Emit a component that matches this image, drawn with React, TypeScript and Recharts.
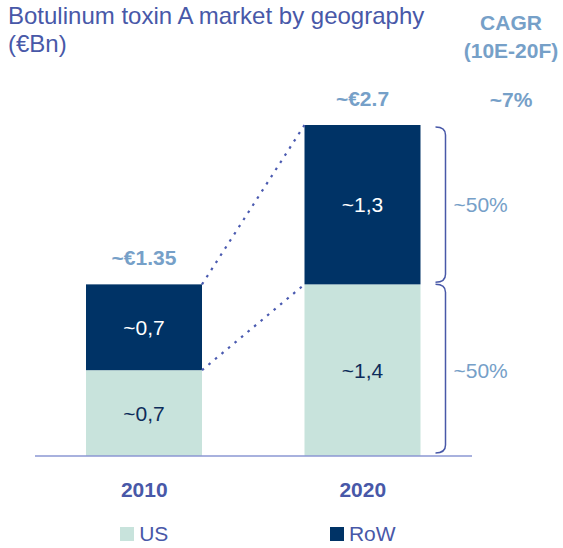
import { BarChart, Bar, XAxis, YAxis, LabelList, Legend } from 'recharts'

const years = ['2010', '2020']
const seriesNames = ['US', 'RoW']
const usValues = [0.7, 1.4]
const rowValues = [0.7, 1.3]
const totalLabels = ['~€1.35', '~€2.7']
// share of the 2020 market, top (RoW) then bottom (US)
const shareLabels = ['~50%', '~50%']
const cagrLabel = '~7%'

const FONT = '"Liberation Sans", Arial, sans-serif'
const NAVY = '#003366'
const MINT = '#c8e3dc'
const INK = '#4858a8'
const SOFT = '#76a0c8'

const data = years.map((year, i) => ({
  year,
  us: usValues[i],
  row: rowValues[i],
  total: totalLabels[i],
}))

type Box = { x: number; y: number; width: number; height: number }
// bar boxes are collected while the bars draw, so the connectors can join them
const boxes: Record<string, Box> = {}

const fmt = (v: number) => '~' + String(v).replace('.', ',')

function UsShape(props: any) {
  const { x, y, width, height, index, fill } = props
  boxes['us' + index] = { x, y, width, height }
  return <rect x={x} y={y} width={width} height={height} fill={fill} />
}

function bracket(x0: number, top: number, bottom: number) {
  const x1 = x0 + 10
  return `M${x0},${top} Q${x1},${top} ${x1},${top + 8} L${x1},${bottom - 8} Q${x1},${bottom} ${x0},${bottom}`
}

function RowShape(props: any) {
  const { x, y, width, height, index, fill } = props
  boxes['row' + index] = { x, y, width, height }
  const rect = <rect x={x} y={y} width={width} height={height} fill={fill} />
  if (index !== years.length - 1) return rect

  const a = boxes['row0']
  const ua = boxes['us0']
  const ub = boxes['us' + index]
  const right = x + width
  const rowBottom = y + height
  const usBottom = ub ? ub.y + ub.height : rowBottom
  const dots = { stroke: '#4a5ab0', strokeWidth: 2.2, strokeDasharray: '2.5 6' }

  return (
    <g>
      {rect}
      {a && <line x1={a.x + a.width} y1={a.y} x2={x} y2={y} {...dots} />}
      {ua && ub && <line x1={ua.x + ua.width} y1={ua.y} x2={ub.x} y2={ub.y} {...dots} />}
      <path d={bracket(right + 15, y + 2, rowBottom - 2)} fill="none" stroke={INK} strokeWidth={1.5} />
      <path d={bracket(right + 15, rowBottom, usBottom - 3)} fill="none" stroke={INK} strokeWidth={1.5} />
      <text x={right + 33} y={(y + rowBottom) / 2} dominantBaseline="central" fontSize={21} fill={SOFT} fontFamily={FONT}>
        {shareLabels[0]}
      </text>
      <text x={right + 33} y={(rowBottom + usBottom) / 2} dominantBaseline="central" fontSize={21} fill={SOFT} fontFamily={FONT}>
        {shareLabels[1]}
      </text>
    </g>
  )
}

function TotalLabel(props: any) {
  const { x, y, width, value } = props
  return (
    <text x={x + width / 2} y={y - 19} textAnchor="middle" fontSize={21} fontWeight="bold" fill={SOFT} fontFamily={FONT}>
      {value}
    </text>
  )
}

function YearTick(props: any) {
  const { x, y, payload } = props
  return (
    <text x={x} y={y + 41} textAnchor="middle" fontSize={21} fontWeight="bold" fill={INK} fontFamily={FONT}>
      {payload.value}
    </text>
  )
}

function LegendRow(props: any) {
  const items = [...(props.payload || [])].sort(
    (p: any, q: any) => seriesNames.indexOf(p.value) - seriesNames.indexOf(q.value)
  )
  return (
    <div style={{ display: 'flex', width: '100%', fontFamily: FONT }}>
      {items.map((it: any) => (
        <div key={it.value} style={{ flex: 1, display: 'flex', justifyContent: 'center', alignItems: 'center' }}>
          <span style={{ width: 14, height: 14, background: it.color, marginRight: 5, display: 'inline-block' }} />
          <span style={{ fontSize: 21, color: INK, lineHeight: '24px' }}>{it.value}</span>
        </div>
      ))}
    </div>
  )
}

export default function App() {
  const header = {
    position: 'absolute' as const,
    left: 451,
    width: 120,
    textAlign: 'center' as const,
    fontSize: 21,
    fontWeight: 'bold' as const,
    lineHeight: '28px',
    color: SOFT,
  }
  return (
    <div style={{ position: 'absolute', left: 0, top: 0, width: 563, height: 548, fontFamily: FONT }}>
      <div style={{ position: 'absolute', left: 8, top: 2, fontSize: 24, lineHeight: '28px', color: INK }}>
        Botulinum toxin A market by geography
        <br />
        (€Bn)
      </div>
      <div style={{ ...header, top: 9 }}>
        CAGR
        <br />
        (10E-20F)
      </div>
      <div style={{ ...header, top: 86 }}>{cagrLabel}</div>
      <BarChart
        width={563}
        height={548}
        data={data}
        margin={{ top: 125, right: 91, bottom: 52, left: 35 }}
        barSize={116}
      >
        <XAxis
          dataKey="year"
          height={40}
          tickLine={false}
          tickSize={0}
          tickMargin={0}
          axisLine={{ stroke: '#8b97d3', strokeWidth: 1.5 }}
          tick={<YearTick />}
        />
        <YAxis hide domain={[0, 2.7]} />
        <Legend
          verticalAlign="middle"
          align="center"
          layout="horizontal"
          content={<LegendRow />}
          wrapperStyle={{ top: 522, left: 35, width: 437, height: 26 }}
        />
        <Bar dataKey="us" name={seriesNames[0]} stackId="a" fill={MINT} shape={<UsShape />} isAnimationActive={false}>
          <LabelList
            dataKey="us"
            position="center"
            formatter={(v: any) => fmt(v)}
            fill="#0d2c5a"
            fontSize={21}
            fontFamily={FONT}
          />
        </Bar>
        <Bar dataKey="row" name={seriesNames[1]} stackId="a" fill={NAVY} shape={<RowShape />} isAnimationActive={false}>
          <LabelList
            dataKey="row"
            position="center"
            formatter={(v: any) => fmt(v)}
            fill="#ffffff"
            fontSize={21}
            fontFamily={FONT}
          />
          <LabelList dataKey="total" content={<TotalLabel />} />
        </Bar>
      </BarChart>
    </div>
  )
}
